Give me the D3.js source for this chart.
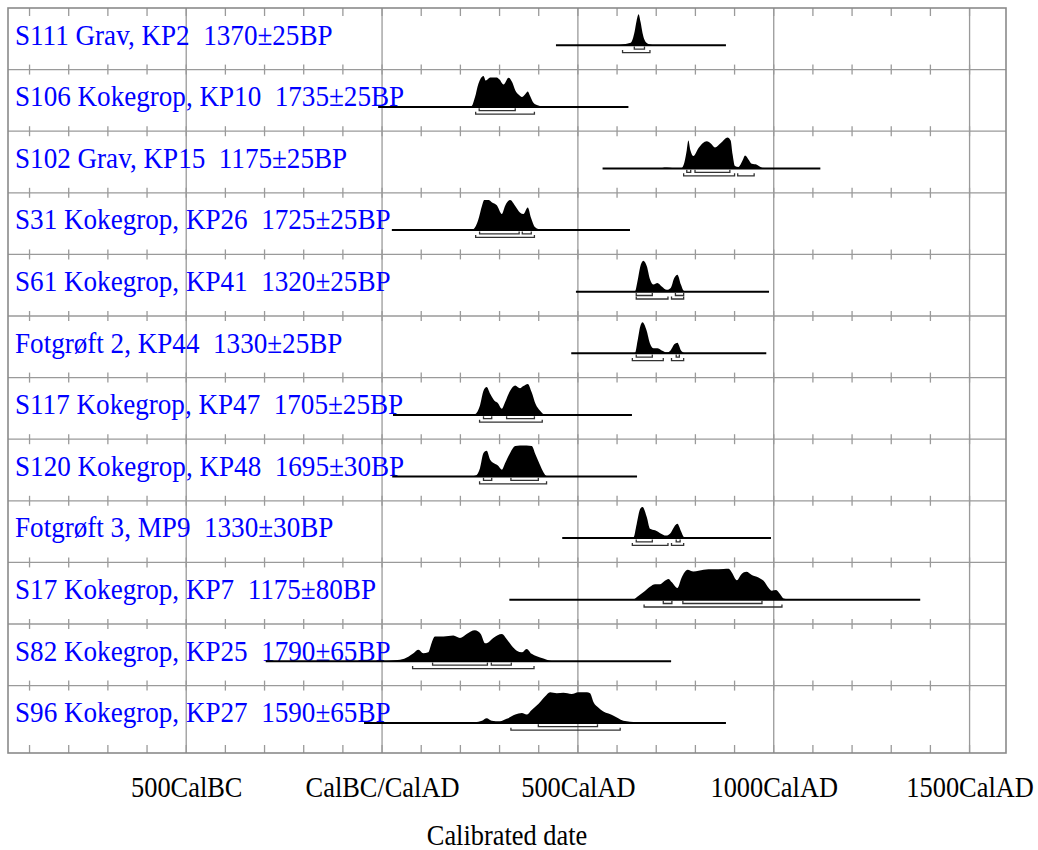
<!DOCTYPE html>
<html>
<head>
<meta charset="utf-8">
<script src="https://cdn.jsdelivr.net/npm/d3@7"></script>
<style>
  html, body { margin: 0; padding: 0; background: #fff; }
  svg { display: block; }
  text { font-family: "Liberation Serif", "Times New Roman", serif; white-space: pre; }
</style>
</head>
<body>
<svg id="chart" width="1038" height="850"></svg>
<script>
// ---------------- DATA ----------------
const labels = [
  "S111 Grav, KP2  1370\u00b125BP",
  "S106 Kokegrop, KP10  1735\u00b125BP",
  "S102 Grav, KP15  1175\u00b125BP",
  "S31 Kokegrop, KP26  1725\u00b125BP",
  "S61 Kokegrop, KP41  1320\u00b125BP",
  "Fotgr\u00f8ft 2, KP44  1330\u00b125BP",
  "S117 Kokegrop, KP47  1705\u00b125BP",
  "S120 Kokegrop, KP48  1695\u00b130BP",
  "Fotgr\u00f8ft 3, MP9  1330\u00b130BP",
  "S17 Kokegrop, KP7  1175\u00b180BP",
  "S82 Kokegrop, KP25  1790\u00b165BP",
  "S96 Kokegrop, KP27  1590\u00b165BP"
];
// extent of each calibrated range line (cal years AD, BC negative)
const lineFrom = [444, -10, 563, 25, 495, 483, 28, 26, 460, 325, -297, -46];
const lineTo   = [878, 629, 1119, 633, 988, 981, 638, 651, 993, 1374, 738, 878];

// relative probability (year, p)
const prob0 = [[600,0],[610,0.02],[625,0.05],[635,0.08],[640,0.2],[645,0.45],[650,0.8],[655,1.0],[660,0.75],[665,0.4],[670,0.18],[675,0.08],[680,0.04],[690,0.01],[700,0]];
const prob1 = [[215,0],[229,0.03],[237,0.3],[246,0.75],[259,1.0],[265,0.85],[276,0.95],[293,0.95],[300,0.88],[310,0.72],[323,0.94],[332,0.8],[340,0.54],[350,0.38],[357,0.32],[366,0.42],[372,0.5],[378,0.35],[386,0.14],[395,0.06],[403,0.03],[420,0]];
const prob2 = [[690,0],[715,0.02],[727,0.03],[745,0.01],[765,0.02],[772,0.2],[778,0.6],[782,0.9],[787,0.6],[795,0.4],[808,0.66],[829,0.88],[840,0.8],[850,0.68],[865,0.82],[882,1.0],[890,0.9],[895,0.45],[901,0.08],[910,0.05],[920,0.25],[927,0.42],[935,0.3],[944,0.15],[957,0.12],[965,0.06],[975,0.01],[990,0]];
const prob3 = [[220,0],[233,0.03],[246,0.35],[255,0.78],[261,0.97],[272,0.97],[280,0.9],[293,0.8],[306,0.52],[314,0.78],[327,0.97],[340,0.78],[352,0.57],[361,0.52],[372,0.73],[380,0.41],[391,0.09],[403,0.02],[420,0]];
const prob4 = [[635,0],[646,0.02],[652,0.33],[659,0.8],[667,1.0],[676,0.82],[684,0.4],[693,0.23],[703,0.28],[714,0.17],[727,0.06],[737,0.12],[746,0.44],[754,0.55],[763,0.23],[770,0.03],[780,0]];
const prob5 = [[635,0],[646,0.02],[652,0.38],[659,0.86],[665,1.0],[675,0.75],[684,0.32],[693,0.16],[703,0.16],[714,0.09],[727,0.03],[737,0.1],[746,0.29],[754,0.34],[763,0.1],[770,0.02],[780,0]];
const prob6 = [[225,0],[237,0.02],[250,0.3],[259,0.78],[267,0.9],[276,0.68],[287,0.46],[295,0.39],[306,0.2],[314,0.41],[327,0.78],[340,0.95],[352,0.86],[361,0.93],[372,1.0],[382,0.73],[392,0.35],[403,0.14],[412,0.03],[425,0]];
const prob7 = [[225,0],[239,0.03],[250,0.27],[259,0.76],[267,0.83],[276,0.54],[289,0.4],[295,0.36],[306,0.22],[314,0.43],[327,0.76],[340,0.98],[352,1.0],[369,1.0],[382,0.98],[392,0.7],[403,0.38],[412,0.14],[420,0.02],[432,0]];
const prob8 = [[630,0],[642,0.02],[650,0.45],[659,0.94],[665,1.0],[676,0.67],[684,0.3],[697,0.25],[710,0.16],[725,0.08],[735,0.14],[746,0.37],[754,0.46],[763,0.23],[771,0.03],[780,0]];
const prob9 = [[630,0],[642,0.01],[650,0.08],[667,0.24],[684,0.42],[697,0.5],[710,0.5],[722,0.61],[731,0.67],[740,0.56],[754,0.38],[765,0.72],[780,0.97],[795,0.91],[821,0.97],[846,0.98],[872,0.99],[885,1.0],[893,0.88],[906,0.63],[918,0.83],[930,0.9],[944,0.8],[961,0.72],[974,0.61],[987,0.38],[995,0.29],[1006,0.31],[1016,0.18],[1025,0.04],[1042,0.01],[1100,0.005],[1150,0]];
const prob10 = [[0,0],[20,0.02],[46,0.05],[67,0.15],[80,0.26],[93,0.37],[105,0.26],[118,0.29],[127,0.61],[135,0.8],[157,0.8],[182,0.83],[199,0.75],[216,0.88],[237,1.0],[252,0.88],[263,0.58],[271,0.61],[284,0.75],[306,0.88],[318,0.72],[331,0.5],[344,0.34],[357,0.29],[369,0.4],[382,0.24],[395,0.16],[412,0.09],[429,0.02],[446,0]];
const prob11 = [[220,0],[255,0.07],[267,0.15],[280,0.07],[301,0.05],[318,0.13],[340,0.27],[357,0.32],[369,0.27],[382,0.42],[399,0.61],[416,0.85],[429,0.99],[446,0.96],[463,0.97],[484,0.93],[501,0.99],[523,0.99],[531,0.96],[540,0.67],[552,0.5],[565,0.37],[578,0.3],[591,0.23],[603,0.15],[616,0.07],[633,0.04],[650,0.02],[676,0.005],[700,0]];
const probs = [prob0, prob1, prob2, prob3, prob4, prob5, prob6, prob7, prob8, prob9, prob10, prob11];

// 68.2% and 95.4% ranges
const range68 = [
  [[644,670]], [[248,340]], [[778,788],[799,888]], [[249,350],[358,381]],
  [[649,690],[749,770]], [[649,690],[751,759]], [[259,280],[318,389]], [[259,280],[329,399]],
  [[649,690],[751,761]], [[718,740],[768,970]], [[129,269],[279,330]], [[399,550]]
];
const range95 = [
  [[614,684]], [[239,389]], [[770,900],[908,950]], [[239,389]],
  [[649,730],[739,770]], [[639,718],[739,770]], [[249,409]], [[249,420]],
  [[639,730],[739,770]], [[669,1021]], [[78,388]], [[329,608]]
];

const tickYears = d3.range(-900, 1600, 100);
const majorYears = [-500, 0, 500, 1000, 1500];
const axisLabels = ["500CalBC", "CalBC/CalAD", "500CalAD", "1000CalAD", "1500CalAD"];
const axisTitle = "Calibrated date";

// ---------------- LAYOUT ----------------
const svg = d3.select("#chart");
const L = 8, R = 1006, T = 8, B = 753;
const rowH = 61.6;
const nRows = labels.length;
const sxAxis = 0.91;   // glyph narrowing as in the reference
const sxLabel = 0.935;

const x = d3.scaleLinear().domain([-955, 1593]).range([L, R]);
const rowTop = d3.scaleLinear().domain([0, 1]).range([T, T + rowH]);
const h = d3.scaleLinear().domain([0, 1]).range([0, 31]);
const gridCol = "#9a9a9a";

// vertical major grid lines
svg.append("g").selectAll("line").data(majorYears).join("line")
  .attr("x1", d => x(d)).attr("x2", d => x(d))
  .attr("y1", T).attr("y2", B)
  .attr("stroke", gridCol).attr("stroke-width", 1.3);

// horizontal row lines with ticks
const rowLines = d3.range(1, nRows);
svg.append("g").selectAll("line").data(rowLines).join("line")
  .attr("x1", L).attr("x2", R)
  .attr("y1", d => rowTop(d)).attr("y2", d => rowTop(d))
  .attr("stroke", gridCol).attr("stroke-width", 1.3);

const tickG = svg.append("g").attr("stroke", gridCol).attr("stroke-width", 1.3);
rowLines.forEach(r => {
  tickG.selectAll(null).data(tickYears).join("line")
    .attr("x1", d => x(d)).attr("x2", d => x(d))
    .attr("y1", rowTop(r) - 5).attr("y2", rowTop(r) + 5);
});
tickG.selectAll(null).data(tickYears).join("line")
  .attr("x1", d => x(d)).attr("x2", d => x(d)).attr("y1", T).attr("y2", T + 8);
tickG.selectAll(null).data(tickYears).join("line")
  .attr("x1", d => x(d)).attr("x2", d => x(d)).attr("y1", B - 8).attr("y2", B);

// frame
svg.append("rect").attr("x", L).attr("y", T).attr("width", R - L).attr("height", B - T)
  .attr("fill", "none").attr("stroke", "#8a8a8a").attr("stroke-width", 1.6);

// labels
svg.append("g").selectAll("text").data(labels).join("text")
  .attr("transform", (d, i) => `translate(15,${rowTop(i) + 36.5}) scale(${sxLabel},1)`)
  .attr("font-size", 29).attr("fill", "#0000ff")
  .text(d => d);

// distributions
const area = d3.area().x(d => x(d[0])).y0(0).y1(d => -h(d[1])).curve(d3.curveMonotoneX);
probs.forEach((p, i) => {
  const base = rowTop(i) + 37.3;
  const g = svg.append("g").attr("transform", `translate(0,${base})`);
  g.append("path").datum(p).attr("d", area).attr("fill", "#000");
  g.append("line").attr("x1", x(lineFrom[i])).attr("x2", x(lineTo[i]))
    .attr("y1", 0).attr("y2", 0).attr("stroke", "#000").attr("stroke-width", 2);
  const drawBr = (ranges, off) => {
    ranges.forEach(rg => {
      g.append("path")
        .attr("d", `M${x(rg[0])},${off - 2.5}V${off}H${x(rg[1])}V${off - 2.5}`)
        .attr("fill", "none").attr("stroke", "#333").attr("stroke-width", 1.3);
    });
  };
  drawBr(range68[i], 3.8);
  drawBr(range95[i], 7.3);
});

// x axis labels
const axis = d3.axisBottom(x).tickValues(majorYears).tickSize(0)
  .tickFormat((d, i) => axisLabels[i]);
const ax = svg.append("g").attr("transform", `translate(0,${B})`).call(axis);
ax.select(".domain").remove();
ax.selectAll("text")
  .attr("y", 0).attr("dy", null)
  .attr("transform", `translate(0,43.5) scale(${sxAxis},1)`)
  .attr("font-size", 29).attr("font-family", "Liberation Serif").attr("fill", "#000");

svg.append("text")
  .attr("transform", `translate(${(L + R) / 2},845) scale(${sxAxis},1)`)
  .attr("text-anchor", "middle").attr("font-size", 29).attr("fill", "#000")
  .text(axisTitle);
</script>
</body>
</html>
